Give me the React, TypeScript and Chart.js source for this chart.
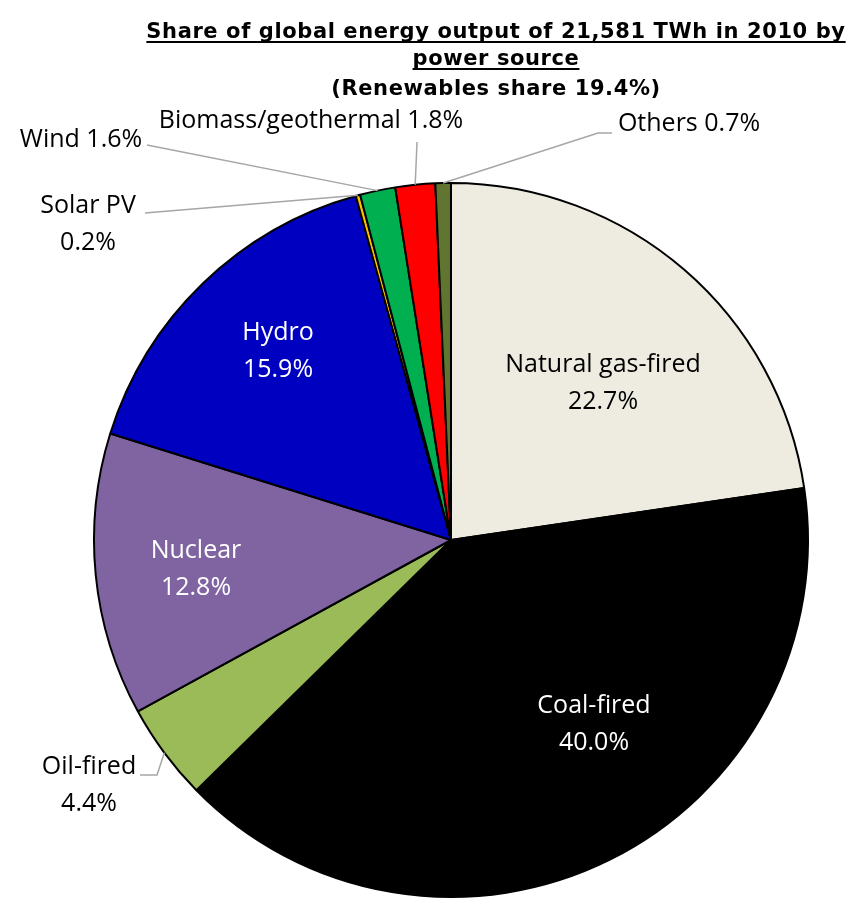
import React, { useEffect, useRef } from "react";
import { Chart, registerables } from "chart.js";

Chart.register(...registerables);

// ---- data ----
const categories = [
  "Natural gas-fired",
  "Coal-fired",
  "Oil-fired",
  "Nuclear",
  "Hydro",
  "Solar PV",
  "Wind",
  "Biomass/geothermal",
  "Others",
];
const shares = [22.7, 40.0, 4.4, 12.8, 15.9, 0.2, 1.6, 1.8, 0.7];
const valueLabels = ["22.7%", "40.0%", "4.4%", "12.8%", "15.9%", "0.2%", "1.6%", "1.8%", "0.7%"];
const titleLines = [
  "Share of global energy output of 21,581 TWh in 2010 by",
  "power source",
  "(Renewables share 19.4%)",
];

// ---- styles / layout ----
const colors = ["#EEECE1", "#000000", "#9BBB59", "#8064A2", "#0000C0", "#FFC000", "#00B050", "#FF0000", "#5F7530"];
const LABEL_FONT = '25px "Open Sans", Lato, sans-serif';
const TITLE_FONT = 'bold 21px "DejaVu Sans", Verdana, sans-serif';

type LabelLayout = {
  lines: (cat: string, val: string) => string[];
  x: number;
  y: number;
  color: string;
  inside: boolean;
  leader?: number[][];
};

const labelLayout: LabelLayout[] = [
  { lines: (c, v) => [c, v], x: 603, y: 365, color: "#000", inside: true },
  { lines: (c, v) => [c, v], x: 594, y: 706, color: "#fff", inside: true },
  { lines: (c, v) => [c, v], x: 89, y: 767, color: "#000", inside: false, leader: [[140, 775], [157, 775]] },
  { lines: (c, v) => [c, v], x: 196, y: 551, color: "#fff", inside: true },
  { lines: (c, v) => [c, v], x: 278, y: 333, color: "#fff", inside: true },
  { lines: (c, v) => [c, v], x: 88, y: 206, color: "#000", inside: false, leader: [[145, 213]] },
  { lines: (c, v) => [c + " " + v], x: 81, y: 140, color: "#000", inside: false, leader: [[147, 145]] },
  { lines: (c, v) => [c + " " + v], x: 311, y: 121, color: "#000", inside: false, leader: [[417, 142]] },
  { lines: (c, v) => [c + " " + v], x: 689, y: 124, color: "#000", inside: false, leader: [[612, 133], [598, 133]] },
];

const labelPlugin = {
  id: "customLabels",
  afterDraw(chart: any) {
    const ctx = chart.ctx as CanvasRenderingContext2D;
    const meta = chart.getDatasetMeta(0);
    ctx.save();
    // title
    ctx.font = TITLE_FONT;
    (ctx as any).letterSpacing = "0.6px";
    ctx.fillStyle = "#000";
    ctx.textAlign = "center";
    ctx.textBaseline = "alphabetic";
    const tx = 496;
    const tys = [38, 65, 95];
    titleLines.forEach((t, i) => {
      ctx.fillText(t, tx, tys[i]);
      if (i < 2) {
        const w = ctx.measureText(t).width;
        ctx.fillRect(tx - w / 2, tys[i] + 3, w, 2);
      }
    });
    (ctx as any).letterSpacing = "0px";

    // labels
    ctx.font = LABEL_FONT;
    ctx.textBaseline = "middle";
    meta.data.forEach((arc: any, i: number) => {
      const L = labelLayout[i];
      const lines = L.lines(categories[i], valueLabels[i]);
      if (!L.inside && L.leader) {
        const mid = (arc.startAngle + arc.endAngle) / 2;
        const ex = arc.x + Math.cos(mid) * arc.outerRadius;
        const ey = arc.y + Math.sin(mid) * arc.outerRadius;
        ctx.strokeStyle = "#A6A6A6";
        ctx.lineWidth = 1.5;
        ctx.beginPath();
        ctx.moveTo(L.leader[0][0], L.leader[0][1]);
        for (let k = 1; k < L.leader.length; k++) ctx.lineTo(L.leader[k][0], L.leader[k][1]);
        ctx.lineTo(ex, ey);
        ctx.stroke();
      }
      ctx.fillStyle = L.color;
      lines.forEach((ln, k) => ctx.fillText(ln, L.x, L.y + k * 37));
    });
    ctx.restore();
  },
};

export default function App() {
  const ref = useRef<HTMLCanvasElement>(null);
  useEffect(() => {
    if (!ref.current) return;
    const chart = new Chart(ref.current, {
      type: "pie",
      data: {
        labels: categories,
        datasets: [
          {
            data: shares,
            backgroundColor: colors,
            borderColor: "#000",
            borderWidth: 2,
            hoverOffset: 0,
            offset: 0,
          },
        ],
      },
      options: {
        animation: false,
        responsive: false,
        maintainAspectRatio: false,
        events: [],
        layout: { padding: { left: 93, right: 45, top: 182, bottom: 8 } },
        plugins: {
          legend: { display: false },
          title: { display: false },
          tooltip: { enabled: false },
        },
      },
      plugins: [labelPlugin],
    });
    return () => chart.destroy();
  }, []);
  return (
    <div style={{ position: "fixed", left: 0, top: 0, width: 854, height: 906, background: "#fff" }}>
      <canvas ref={ref} width={854} height={906} style={{ width: 854, height: 906 }} />
    </div>
  );
}
